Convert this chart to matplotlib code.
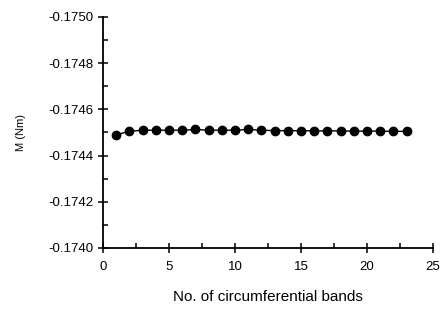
import numpy as np
import matplotlib
import matplotlib.pyplot as plt
from matplotlib.ticker import MultipleLocator

matplotlib.use("Agg")

bands = list(range(1, 24))
moment = [-0.174490, -0.174505, -0.174510, -0.174510, -0.174510, -0.174510,
          -0.174513, -0.174510, -0.174510, -0.174510, -0.174513, -0.174510,
          -0.174508, -0.174508, -0.174508, -0.174507, -0.174507, -0.174507,
          -0.174506, -0.174506, -0.174506, -0.174505, -0.174505]

plt.rcParams["font.family"] = ["Liberation Sans", "DejaVu Sans"]

fig = plt.figure(figsize=(4.43, 3.14), dpi=100)
ax = fig.add_axes([103 / 443, 1 - 248 / 314, 330 / 443, 231 / 314])

ax.plot(bands, moment, color="black", lw=1.0, marker="o", ms=6)

ax.set_xlim(0, 25)
ax.set_ylim(-0.1740, -0.1750)
ax.xaxis.set_major_locator(MultipleLocator(5))
ax.xaxis.set_minor_locator(MultipleLocator(2.5))
ax.yaxis.set_major_locator(MultipleLocator(0.0002))
ax.yaxis.set_minor_locator(MultipleLocator(0.0001))
ax.yaxis.set_major_formatter(matplotlib.ticker.FormatStrFormatter("%.4f"))

for side in ["left", "bottom"]:
    ax.spines[side].set_linewidth(1.3)
ax.spines["top"].set_visible(False)
ax.spines["right"].set_visible(False)
ax.tick_params(which="major", direction="inout", length=7, width=1.1, labelsize=9.5)
ax.tick_params(axis="x", which="major", pad=6)
ax.tick_params(which="minor", direction="in", length=3.5, width=1.1)

ax.set_xlabel("No. of circumferential bands", fontsize=11, labelpad=12)
ax.set_ylabel("M (Nm)", fontsize=8, labelpad=16)

fig.savefig("out.png", dpi=100)
